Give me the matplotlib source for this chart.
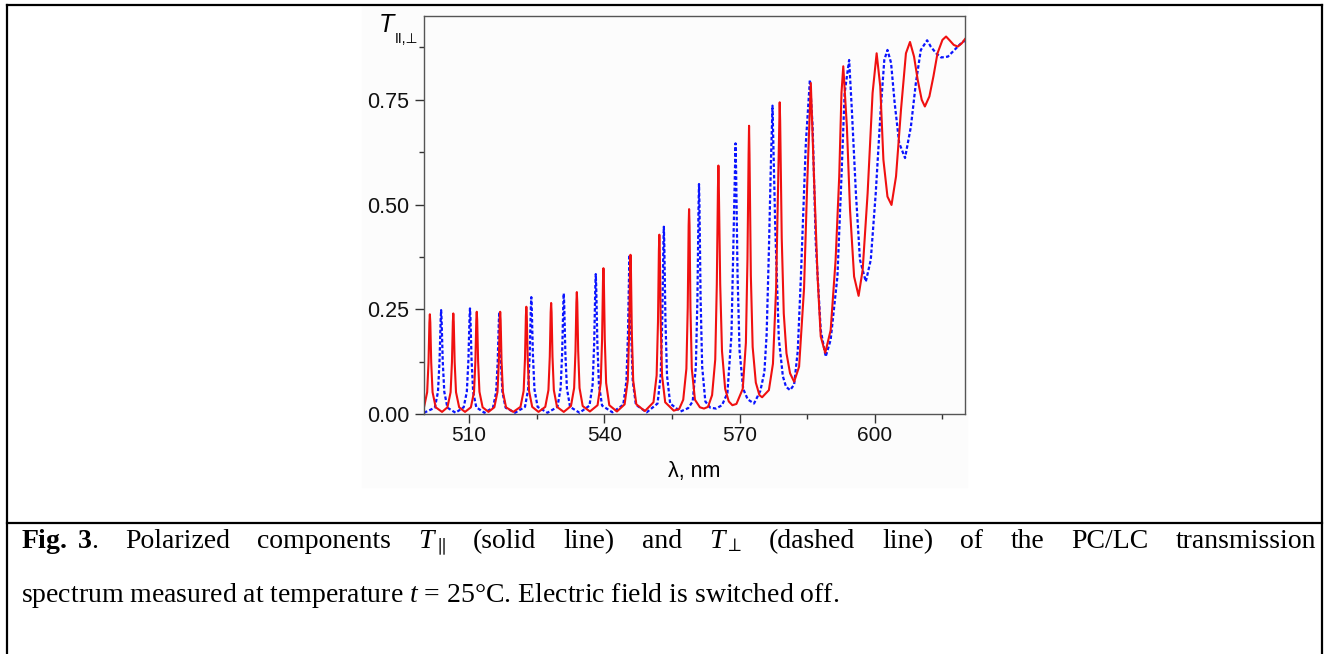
import matplotlib
matplotlib.use("Agg")
import matplotlib.pyplot as plt
from matplotlib.lines import Line2D
from matplotlib.patches import Rectangle
from matplotlib.ticker import MultipleLocator

# T_par (solid red): wavelength nm, transmission
par_wl = [500.0, 500.7, 501.0, 501.2, 501.3, 501.4, 501.6, 501.9, 502.6, 504.0,
          505.2, 505.9, 506.2, 506.4, 506.5, 506.6, 506.8, 507.1, 507.8, 509.1,
          510.4, 511.1, 511.4, 511.6, 511.7, 511.8, 512.0, 512.3, 513.0, 514.3,
          515.6, 516.3, 516.6, 516.8, 516.9, 517.0, 517.2, 517.5, 518.2, 519.8,
          521.4, 522.1, 522.4, 522.6, 522.7, 522.8, 523.0, 523.3, 524.0, 525.4,
          526.9, 527.6, 527.9, 528.1, 528.2, 528.3, 528.5, 528.8, 529.5, 531.0,
          532.6, 533.3, 533.6, 533.8, 533.9, 534.0, 534.2, 534.5, 535.2, 536.8,
          538.5, 539.2, 539.5, 539.7, 539.8, 539.9, 540.1, 540.4, 541.1, 542.8,
          544.5, 545.2, 545.5, 545.7, 545.8, 545.9, 546.1, 546.4, 547.1, 549.0,
          550.9, 551.6, 551.9, 552.1, 552.2, 552.3, 552.5, 552.8, 553.5, 555.4, 556.6,
          557.5, 558.2, 558.5, 558.7, 558.8, 558.9, 559.1, 559.4, 560.1, 561.2, 562.1, 563.0,
          563.9, 564.6, 564.95, 565.2, 565.3, 565.4, 565.7, 566.1, 566.8, 567.6, 568.4, 569.3,
          570.7, 571.4, 571.75, 572.0, 572.1, 572.2, 572.5, 572.9, 573.6, 574.4, 575.0,
          576.5, 577.4, 578.1, 578.55, 578.8, 578.9, 579.0, 579.35, 579.8, 580.4, 581.2, 582.1,
          583.2, 584.3, 585.0, 585.8, 586.5, 587.3, 588.0, 589.0,
          590.2, 591.3, 592.1, 592.6, 593.0, 593.8, 594.5, 595.4, 596.4,
          597.3, 598.4, 599.5, 600.4, 601.2, 601.9, 602.8, 603.7,
          604.7, 605.8, 606.9, 607.8, 608.7, 609.5, 610.4, 611.1,
          612.1, 613.0, 613.9, 615.0, 615.8, 616.5, 617.5, 618.4, 619.3, 620.0]
par_t = [0.016, 0.052, 0.123, 0.218, 0.238, 0.218, 0.123, 0.052, 0.016, 0.005,
         0.016, 0.052, 0.124, 0.220, 0.240, 0.220, 0.124, 0.052, 0.016, 0.005,
         0.016, 0.053, 0.126, 0.224, 0.244, 0.224, 0.126, 0.053, 0.016, 0.005,
         0.016, 0.053, 0.126, 0.224, 0.244, 0.224, 0.126, 0.053, 0.016, 0.005,
         0.017, 0.055, 0.132, 0.234, 0.256, 0.234, 0.132, 0.055, 0.017, 0.005,
         0.017, 0.057, 0.137, 0.243, 0.265, 0.243, 0.137, 0.057, 0.017, 0.005,
         0.019, 0.062, 0.150, 0.266, 0.291, 0.266, 0.150, 0.062, 0.019, 0.006,
         0.021, 0.074, 0.178, 0.317, 0.348, 0.317, 0.178, 0.074, 0.021, 0.006,
         0.023, 0.080, 0.194, 0.346, 0.380, 0.346, 0.194, 0.080, 0.023, 0.007,
         0.028, 0.092, 0.220, 0.390, 0.428, 0.390, 0.220, 0.092, 0.028, 0.008, 0.012,
         0.034, 0.108, 0.254, 0.450, 0.489, 0.450, 0.254, 0.108, 0.034, 0.016, 0.013, 0.017,
         0.045, 0.130, 0.310, 0.540, 0.593, 0.540, 0.310, 0.150, 0.060, 0.030, 0.021, 0.024,
         0.060, 0.170, 0.370, 0.620, 0.688, 0.620, 0.330, 0.160, 0.075, 0.045, 0.040,
         0.057, 0.120, 0.300, 0.550, 0.700, 0.744, 0.700, 0.420, 0.240, 0.145, 0.097, 0.077,
         0.113, 0.300, 0.550, 0.790, 0.567, 0.328, 0.185, 0.146,
         0.200, 0.368, 0.567, 0.766, 0.830, 0.686, 0.487, 0.328, 0.282,
         0.344, 0.527, 0.766, 0.861, 0.782, 0.607, 0.519, 0.499,
         0.567, 0.726, 0.861, 0.888, 0.853, 0.798, 0.750, 0.734,
         0.758, 0.806, 0.861, 0.893, 0.901, 0.893, 0.881, 0.877, 0.885, 0.895]

# T_perp (dashed blue)
perp_wl = [500.0, 502.4, 503.1, 503.45, 503.7, 503.8, 503.9, 504.15, 504.5, 505.2, 507.0,
           508.8, 509.5, 509.85, 510.1, 510.2, 510.3, 510.55, 510.9, 511.6, 513.4,
           515.3, 516.0, 516.35, 516.6, 516.7, 516.8, 517.05, 517.4, 518.1, 520.2,
           522.4, 523.1, 523.45, 523.7, 523.8, 523.9, 524.15, 524.5, 525.2, 527.4,
           529.6, 530.3, 530.65, 530.9, 531.0, 531.1, 531.35, 531.7, 532.4, 534.5,
           536.7, 537.4, 537.75, 538.0, 538.1, 538.2, 538.45, 538.8, 539.5, 541.8,
           544.2, 544.9, 545.25, 545.5, 545.6, 545.7, 545.95, 546.3, 547.0, 549.4,
           551.8, 552.5, 552.85, 553.1, 553.2, 553.3, 553.55, 553.9, 554.6, 556.9, 558.6,
           559.6, 560.3, 560.65, 560.9, 561.0, 561.1, 561.35, 561.7, 562.4, 563.5, 564.8, 566.1,
           567.3, 568.2, 568.7, 568.97, 569.1, 569.23, 569.55, 570.0, 570.8, 571.8, 573.2, 574.6,
           575.5, 576.0, 576.5, 576.95, 577.3, 577.55, 577.9, 578.7, 579.6, 580.3, 581.2, 582.1,
           582.9, 583.6, 584.7, 585.6, 586.2, 586.9,
           588.0, 589.1, 590.2, 591.7, 592.6, 593.3, 594.3, 594.9,
           595.8, 596.7, 598.0, 599.1, 600.2, 601.3, 602.1, 602.8,
           603.6, 604.4, 605.4, 606.7, 608.0, 609.1, 610.2, 611.6,
           612.4, 613.6, 614.7, 616.2, 617.3, 618.4, 619.5, 620.0]
perp_t = [0.003, 0.015, 0.053, 0.127, 0.226, 0.248, 0.226, 0.127, 0.053, 0.015, 0.003,
          0.016, 0.053, 0.129, 0.230, 0.252, 0.230, 0.129, 0.053, 0.016, 0.003,
          0.015, 0.052, 0.125, 0.222, 0.243, 0.222, 0.125, 0.052, 0.015, 0.003,
          0.017, 0.059, 0.143, 0.254, 0.279, 0.254, 0.143, 0.059, 0.017, 0.003,
          0.017, 0.061, 0.147, 0.262, 0.288, 0.262, 0.147, 0.061, 0.017, 0.003,
          0.020, 0.070, 0.170, 0.304, 0.334, 0.304, 0.170, 0.070, 0.020, 0.004,
          0.022, 0.079, 0.193, 0.345, 0.380, 0.345, 0.193, 0.079, 0.022, 0.004,
          0.025, 0.092, 0.226, 0.405, 0.447, 0.405, 0.226, 0.092, 0.025, 0.006, 0.014,
          0.030, 0.113, 0.277, 0.497, 0.549, 0.497, 0.277, 0.113, 0.030, 0.015, 0.013, 0.021,
          0.050, 0.190, 0.450, 0.600, 0.646, 0.580, 0.330, 0.150, 0.060, 0.035, 0.025, 0.055,
          0.100, 0.190, 0.390, 0.600, 0.736, 0.620, 0.450, 0.180, 0.090, 0.065, 0.057, 0.070,
          0.150, 0.328, 0.647, 0.798, 0.686, 0.408,
          0.200, 0.137, 0.177, 0.328, 0.567, 0.766, 0.845, 0.726,
          0.527, 0.368, 0.316, 0.368, 0.527, 0.726, 0.845, 0.869,
          0.838, 0.742, 0.647, 0.611, 0.686, 0.790, 0.869, 0.892,
          0.877, 0.861, 0.851, 0.853, 0.865, 0.877, 0.889, 0.890]

x_ticks = [510, 540, 570, 600]
y_ticks = [0.00, 0.25, 0.50, 0.75]

plt.rcParams['mathtext.fontset'] = 'custom'
plt.rcParams['mathtext.rm'] = 'Liberation Serif'
plt.rcParams['mathtext.it'] = 'Liberation Serif:italic'
plt.rcParams['mathtext.bf'] = 'Liberation Serif:bold'

W, H = 1329, 654
fig = plt.figure(figsize=(W / 100, H / 100), dpi=100)

def fx(px):
    return px / W

def fy(py):
    return 1 - py / H

# outer box of the figure table
for xs, ys in [([7, 1322], [5, 5]), ([7, 7], [5, H]), ([1322, 1322], [5, H]),
               ([7, 1322], [522.5, 522.5])]:
    fig.add_artist(Line2D([fx(v) for v in xs], [fy(v) for v in ys],
                          color='black', linewidth=1.6))

# faint background of the pasted graph
fig.add_artist(Rectangle((fx(362), fy(487)), fx(967) - fx(362), fy(6) - fy(487),
                         transform=fig.transFigure, color='#fcfcfc', zorder=0))

ax = fig.add_axes([fx(424), fy(414), fx(965) - fx(424), fy(16) - fy(414)])
ax.set_facecolor('none')
ax.plot(perp_wl, perp_t, color='#0a14ff', linewidth=1.6, linestyle=(0, (1.6, 1.0)))
ax.plot(par_wl, par_t, color='#f01010', linewidth=1.5)

ax.set_xlim(500, 620)
ax.set_ylim(0, 0.95)
ax.set_xticks(x_ticks)
ax.set_yticks(y_ticks)
ax.set_yticklabels(['%.2f' % v for v in y_ticks])
ax.xaxis.set_minor_locator(MultipleLocator(15))
ax.yaxis.set_minor_locator(MultipleLocator(0.125))
for s in ax.spines.values():
    s.set_color('#555555')
    s.set_linewidth(1.0)
ax.tick_params(which='both', direction='out', top=False, right=False,
               color='#333333', width=1.0, labelcolor='#111111')
ax.tick_params(which='major', length=6.5)
ax.tick_params(which='minor', length=3.5)
ax.tick_params(axis='x', pad=2, labelsize=15)
ax.tick_params(axis='y', pad=4, labelsize=15.5)
for lab in ax.get_xticklabels() + ax.get_yticklabels():
    lab.set_family('Liberation Sans')
ax.set_xlabel('λ, nm', fontsize=15.5, family='Liberation Sans', labelpad=12)

fig.text(fx(379), fy(32), 'T', fontsize=18, style='italic', family='Liberation Sans',
         va='baseline', ha='left')
fig.text(fx(395), fy(43), 'II,⊥', fontsize=10, family=['Liberation Sans', 'DejaVu Sans'],
         va='baseline', ha='left')

# caption, first line justified
cap_size = 20
words = [r'$\mathbf{Fig.\ 3}$.', 'Polarized', 'components', r'$T_{\parallel}$',
         '(solid', 'line)', 'and', r'$T_{\perp}$', '(dashed', 'line)', 'of', 'the',
         'PC/LC', 'transmission']
texts = [fig.text(0, fy(548), w, fontsize=cap_size, family='Liberation Serif',
                  va='baseline', ha='left') for w in words]
fig.canvas.draw()
renderer = fig.canvas.get_renderer()
widths = [t.get_window_extent(renderer).width for t in texts]
left, right = 21, 1316
gap = (right - left - sum(widths)) / (len(words) - 1)
x = left
for t, w in zip(texts, widths):
    t.set_x(fx(x))
    x += w + gap

fig.text(fx(21), fy(602),
         r'spectrum measured at temperature $t$ = 25°C. Electric field is switched off.',
         fontsize=cap_size, family='Liberation Serif', va='baseline', ha='left')

fig.savefig('out.png', dpi=100)
